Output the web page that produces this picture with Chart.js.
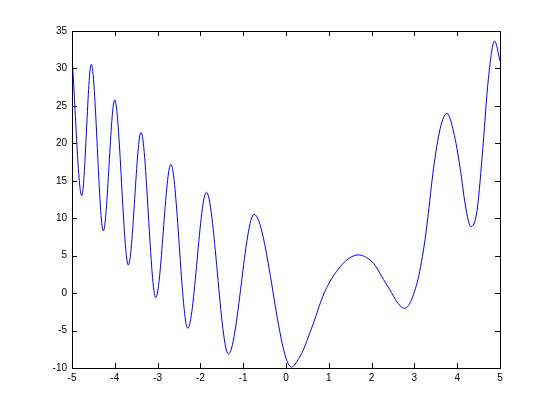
<!DOCTYPE html>
<html>
<head>
<meta charset="utf-8">
<script src="https://cdn.jsdelivr.net/npm/chart.js@4"></script>
<style>
  html, body { margin: 0; padding: 0; background: #fff; }
  #wrap { width: 553px; height: 414px; }
</style>
</head>
<body>
<div id="wrap"><canvas id="plot" width="553" height="414"></canvas></div>
<script>
// values
const xValues = [-5.0, -4.773, -4.549, -4.268, -4.002, -3.683, -3.387, -3.043, -2.69, -2.295,
  -1.86, -1.346, -0.745, 0.128, 0.307, 0.424, 0.541, 0.658, 0.775, 0.892,
  1.009, 1.126, 1.243, 1.399, 1.68, 1.827, 2.045, 2.357, 2.77, 3.06,
  3.23, 3.307, 3.448, 3.604, 3.761, 3.915, 4.07, 4.19, 4.32, 4.46,
  4.58, 4.73, 4.874, 5.0];
const yValues = [31.5, 13.0, 30.55, 8.3, 25.8, 3.75, 21.47, -0.61, 17.2, -4.7,
  13.46, -8.13, 10.52, -9.87, -8.66, -7.33, -5.55, -3.76, -1.76, 0.01,
  1.35, 2.46, 3.35, 4.33, 5.1, 4.91, 3.98, 1.08, -2.03, 1.31,
  6.42, 9.76, 16.66, 22.0, 24.0, 21.55, 16.66, 11.76, 8.87, 10.87,
  18.0, 28.7, 33.66, 31.0];
const xTicks = [-5, -4, -3, -2, -1, 0, 1, 2, 3, 4, 5];
const yTicks = [-10, -5, 0, 5, 10, 15, 20, 25, 30, 35];

const points = xValues.map((x, i) => ({ x: x, y: yValues[i] }));

// matlab style box with inward ticks
const boxTicks = {
  id: "boxTicks",
  afterDraw(chart) {
    const { ctx, chartArea: a, scales } = chart;
    ctx.save();
    ctx.strokeStyle = "#000";
    ctx.lineWidth = 1;
    ctx.strokeRect(Math.round(a.left) + 0.5, Math.round(a.top) + 0.5,
      Math.round(a.right - a.left), Math.round(a.bottom - a.top));
    ctx.beginPath();
    xTicks.forEach(v => {
      const px = Math.round(scales.x.getPixelForValue(v)) + 0.5;
      ctx.moveTo(px, a.bottom); ctx.lineTo(px, a.bottom - 5);
      ctx.moveTo(px, a.top); ctx.lineTo(px, a.top + 5);
    });
    yTicks.forEach(v => {
      const py = Math.round(scales.y.getPixelForValue(v)) + 0.5;
      ctx.moveTo(a.left, py); ctx.lineTo(a.left + 5, py);
      ctx.moveTo(a.right, py); ctx.lineTo(a.right - 5, py);
    });
    ctx.stroke();
    ctx.restore();
  }
};

const tickFont = { family: "'Liberation Sans', Arial, sans-serif", size: 10 };

new Chart(document.getElementById("plot").getContext("2d"), {
  type: "line",
  data: {
    datasets: [{
      data: points,
      borderColor: "#0000ff",
      borderWidth: 1,
      pointRadius: 0,
      fill: false,
      cubicInterpolationMode: "monotone"
    }]
  },
  options: {
    responsive: false,
    animation: false,
    layout: { padding: { left: 0, top: 31, right: 53, bottom: 0 } },
    plugins: { legend: { display: false }, tooltip: { enabled: false } },
    scales: {
      x: {
        type: "linear", min: -5, max: 5,
        afterBuildTicks: s => { s.ticks = xTicks.map(v => ({ value: v })); },
        afterFit: s => { s.height = 46; },
        grid: { display: false, drawTicks: false },
        border: { display: false },
        ticks: { color: "#000", font: tickFont, padding: 4, maxRotation: 0 }
      },
      y: {
        type: "linear", min: -10, max: 35,
        afterBuildTicks: s => { s.ticks = yTicks.map(v => ({ value: v })); },
        afterFit: s => { s.width = 72; },
        grid: { display: false, drawTicks: false },
        border: { display: false },
        ticks: { color: "#000", font: tickFont, padding: 5 }
      }
    }
  },
  plugins: [boxTicks]
});
</script>
</body>
</html>
